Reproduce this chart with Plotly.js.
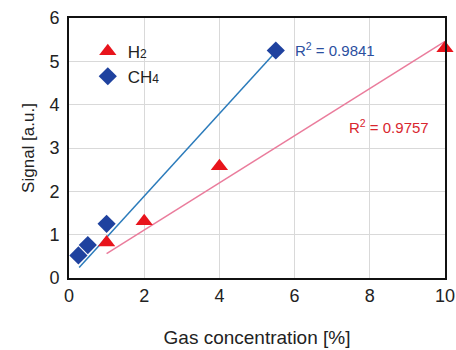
<!DOCTYPE html>
<html><head><meta charset="utf-8">
<script src="https://cdn.plot.ly/plotly-3.0.1.min.js"></script>
<style>body{margin:0;background:#fff}#c{width:456px;height:350px}</style>
</head><body><div id="c"></div>
<script>
const h2X = [1, 2, 4, 10];
const h2Y = [0.82, 1.31, 2.58, 5.30];
const ch4X = [0.25, 0.5, 1, 5.5];
const ch4Y = [0.52, 0.76, 1.25, 5.25];
const h2FitX = [1, 10];
const h2FitY = [0.56, 5.46];
const ch4FitX = [0.27, 5.5];
const ch4FitY = [0.24, 5.22];
const xTicks = [0, 2, 4, 6, 8, 10];
const yTicks = [0, 1, 2, 3, 4, 5, 6];
const seriesNames = ['H<span style="font-size:12px">2</span>', 'CH<span style="font-size:12px">4</span>'];
const r2Labels = ["R<sup>2</sup> = 0.9841", "R<sup>2</sup> = 0.9757"];

const font = "Liberation Sans, Arial, sans-serif";
const data = [
  {x: ch4FitX, y: ch4FitY, mode: 'lines', line: {color: '#2b7bbb', width: 1.5}, showlegend: false, hoverinfo: 'skip'},
  {x: h2FitX, y: h2FitY, mode: 'lines', line: {color: '#ea7c9c', width: 1.5}, showlegend: false, hoverinfo: 'skip'},
  {x: h2X, y: h2Y, mode: 'markers', name: seriesNames[0], cliponaxis: false, marker: {symbol: 'triangle-up', size: 15, color: '#e8141c'}},
  {x: ch4X, y: ch4Y, mode: 'markers', name: seriesNames[1], cliponaxis: false, marker: {symbol: 'diamond', size: 14, color: '#1f429f'}}
];
const layout = {
  width: 456, height: 350,
  margin: {l: 69, r: 11, t: 18, b: 72},
  paper_bgcolor: '#fff', plot_bgcolor: '#fff',
  font: {family: font, size: 16, color: '#222'},
  xaxis: {range: [0, 10], tickvals: xTicks, showline: true, mirror: true, linecolor: '#111', linewidth: 2,
          gridcolor: '#d9d9d9', zeroline: false, ticks: '', tickfont: {size: 18},
          title: {text: 'Gas concentration [%]', font: {size: 19}, standoff: 26}},
  yaxis: {range: [0, 6], tickvals: yTicks, showline: true, mirror: true, linecolor: '#111', linewidth: 2,
          gridcolor: '#d9d9d9', zeroline: false, ticks: '', tickfont: {size: 18}, ticklabelstandoff: 4,
          title: {text: 'Signal [a.u.]', font: {size: 17}, standoff: 10}},
  legend: {x: 0.05, y: 0.94, xanchor: 'left', yanchor: 'top', bgcolor: 'rgba(0,0,0,0)', font: {size: 17, color: '#222'}, tracegroupgap: 0},
  annotations: [
    {x: 5.95, y: 5.28, xref: 'x', yref: 'y', xanchor: 'left', text: r2Labels[0], showarrow: false, font: {size: 15, color: '#2b4f9f'}},
    {x: 7.4, y: 3.5, xref: 'x', yref: 'y', xanchor: 'left', text: r2Labels[1], showarrow: false, font: {size: 15, color: '#d9262e'}}
  ]
};
Plotly.newPlot('c', data, layout, {displayModeBar: false, staticPlot: true});
</script></body></html>
